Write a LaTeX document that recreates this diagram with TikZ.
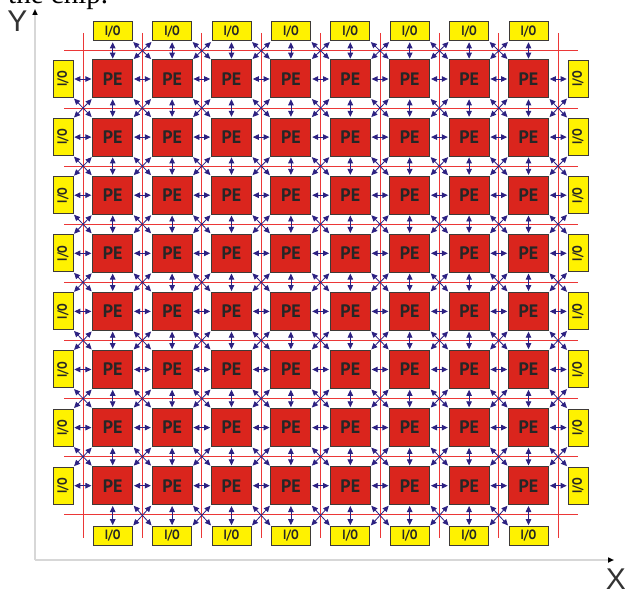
\documentclass[tikz,border=0pt]{standalone}
\usepackage{graphicx}
\usepackage{fontspec}
\setmainfont{Liberation Serif}
\newfontfamily\blockfont{PT Sans}
\newfontfamily\axisfont{Liberation Sans}
\usetikzlibrary{arrows.meta}
\definecolor{pered}{RGB}{218,37,29}
\definecolor{ioyellow}{RGB}{255,242,0}
\definecolor{boxline}{RGB}{62,58,55}
\definecolor{linkblue}{RGB}{44,33,130}
\definecolor{busred}{RGB}{235,55,55}
\definecolor{axisgray}{RGB}{215,215,215}
\tikzset{
  pe/.style={draw=boxline,fill=pered,line width=1pt,minimum width=40pt,minimum height=38pt,inner sep=0pt,font=\blockfont\bfseries\fontsize{18}{18}\selectfont,text=black!85},
  iotop/.style={draw=boxline,fill=ioyellow,line width=1pt,minimum width=39pt,minimum height=19pt,inner sep=0pt,font=\blockfont\bfseries\fontsize{13.5}{13.5}\selectfont,text=black!85},
  ioside/.style={iotop,minimum width=20pt,minimum height=37pt},
  link/.style={{Triangle[length=6pt,width=5.5pt]}-{Triangle[length=6pt,width=5.5pt]},draw=linkblue,line width=0.8pt,shorten <=0.8pt,shorten >=0.8pt},
  bus/.style={draw=busred,line width=0.8pt},
  axis/.style={draw=axisgray,line width=1.8pt,-{Triangle[length=6pt,width=5pt,color=black]}},
  axislabel/.style={font=\axisfont\fontsize{30}{30}\selectfont,text=black!80,inner sep=0pt}
}

\begin{document}
\begin{tikzpicture}[x=1pt,y=-1pt]
\useasboundingbox (0,0) rectangle (625,591);
% caption line cut by the page edge
\node[anchor=base west,font=\fontsize{29}{29}\selectfont,inner sep=0pt] (caption) at (8,4) {the chip.};

% PE array 8x8
\foreach \r in {1,...,8}{
  \foreach \c in {1,...,8}{
    \node[pe] (cell-\r-\c) at ({112.7+59.4*(\c-1)},{79+58.1*(\r-1)}) {PE};
  }
}
% I/O ring
\foreach \c in {1,...,8}{
  \node[iotop] (cell-0-\c) at ({112.7+59.4*(\c-1)},31.5) {\scalebox{0.85}[1]{I/O}};
  \node[iotop] (cell-9-\c) at ({112.7+59.4*(\c-1)},536) {\scalebox{0.85}[1]{I/O}};
}
\foreach \r in {1,...,8}{
  \node[ioside] (cell-\r-0) at (63,{79+58.1*(\r-1)}) {\rotatebox{90}{\scalebox{0.85}[1]{I/O}}};
  \node[ioside] (cell-\r-9) at (578,{79+58.1*(\r-1)}) {\rotatebox{90}{\scalebox{0.85}[1]{I/O}}};
}

% red grid
\foreach \k in {0,...,8}{
  \draw[bus] ({83+59.4*\k},33) -- ({83+59.4*\k},538);
  \draw[bus] (64,{50+58.1*\k}) -- (578,{50+58.1*\k});
}

% links left/right and up/down
\foreach \r in {1,...,8}{
  \foreach \c in {0,...,8}{
    \pgfmathtruncatemacro\nc{\c+1}
    \draw[link] (cell-\r-\c.east) -- (cell-\r-\nc.west);
    \draw[link] (cell-\c-\r.south) -- (cell-\nc-\r.north);
  }
}
% diagonal links
\foreach \r in {0,...,8}{
  \foreach \c in {0,...,8}{
    \pgfmathtruncatemacro\nr{\r+1}
    \pgfmathtruncatemacro\nc{\c+1}
    \pgfmathtruncatemacro\cornerflag{(\r==0||\r==8)&&(\c==0||\c==8)}
    \ifnum\cornerflag=0
      \draw[link] (cell-\r-\c.south east) -- (cell-\nr-\nc.north west);
      \draw[link] (cell-\r-\nc.south west) -- (cell-\nr-\c.north east);
    \fi
  }
}

% axes
\coordinate (origin) at (35,560);
\coordinate (ytip) at (35,9);
\coordinate (xtip) at (614,560);
\draw[axis] (origin) -- (ytip);
\draw[axis] (origin) -- (xtip);
\node[axislabel] (ylabel) at (17.5,21) {Y};
\node[axislabel] (xlabel) at (616,579) {X};
\end{tikzpicture}
\end{document}
